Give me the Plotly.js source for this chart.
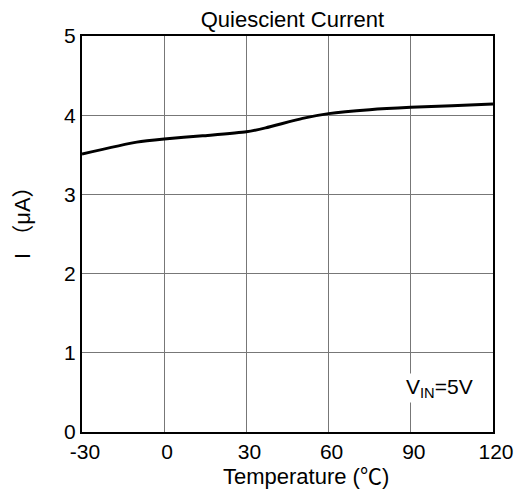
<!DOCTYPE html>
<html>
<head>
<meta charset="utf-8">
<script src="https://cdn.plot.ly/plotly-3.0.1.min.js"></script>
<style>html,body{margin:0;padding:0;background:#fff;}#chart{width:525px;height:496px;}</style>
</head>
<body>
<div id="chart"></div>
<script>
const chartTitle = "Quiescient Current";
const xTitle = "Temperature (℃)";
const yTitle = "I （μA）";
const temperature = [-30, -10, 0, 14, 30, 37, 50.5, 60, 75, 90, 105, 120];
const currentUA = [3.51, 3.66, 3.70, 3.74, 3.79, 3.84, 3.96, 4.02, 4.07, 4.10, 4.12, 4.14];
const xTicks = [-30, 0, 30, 60, 90, 120];
const yTicks = [0, 1, 2, 3, 4, 5];
const noteText = "V<sub>IN</sub>=5V";

const font = "Arial, 'Liberation Sans', sans-serif";
const mixFont = "Arial, 'Liberation Sans', 'Noto Sans CJK SC', sans-serif";

const trace = {
  x: temperature, y: currentUA, type: "scatter", mode: "lines",
  line: {color: "#000", width: 3, shape: "spline", smoothing: 0.6},
  hoverinfo: "skip", showlegend: false
};

const layout = {
  width: 525, height: 496,
  margin: {l: 82, r: 32, t: 36, b: 64},
  paper_bgcolor: "#fff", plot_bgcolor: "#fff",
  font: {family: font, color: "#000", size: 21},
  title: {text: chartTitle, font: {family: font, size: 22, color: "#000"}, x: 0.557, xanchor: "center", y: 0.961, yanchor: "middle"},
  xaxis: {
    range: [-30, 120], tickvals: xTicks, ticktext: xTicks.map(String),
    showgrid: true, gridcolor: "#777", gridwidth: 1,
    showline: true, linecolor: "#000", linewidth: 2, mirror: true,
    ticks: "", zeroline: false, ticklabelshift: 3,
    tickfont: {family: font, size: 21, color: "#000"}
  },
  yaxis: {
    range: [0, 5], tickvals: yTicks, ticktext: yTicks.map(String),
    showgrid: true, gridcolor: "#777", gridwidth: 1,
    showline: true, linecolor: "#000", linewidth: 2, mirror: true,
    ticks: "", zeroline: false,
    tickfont: {family: font, size: 21, color: "#000"}
  },
  annotations: [
    {text: xTitle, xref: "paper", yref: "paper", x: 0.545, y: -0.1136,
     showarrow: false, font: {family: mixFont, size: 22, color: "#000"}, xanchor: "center", yanchor: "middle"},
    {text: yTitle, xref: "paper", yref: "paper", x: -0.1436, y: 0.543, textangle: -90,
     showarrow: false, font: {family: mixFont, size: 22, color: "#000"}, xanchor: "center", yanchor: "middle"},
    {text: noteText, xref: "x", yref: "y", x: 87.5, y: 0.56, showarrow: false,
     bgcolor: "#fff", font: {family: font, size: 21, color: "#000"}, xanchor: "left", yanchor: "middle"}
  ]
};

Plotly.newPlot("chart", [trace], layout, {staticPlot: true, displayModeBar: false});
</script>
</body>
</html>
